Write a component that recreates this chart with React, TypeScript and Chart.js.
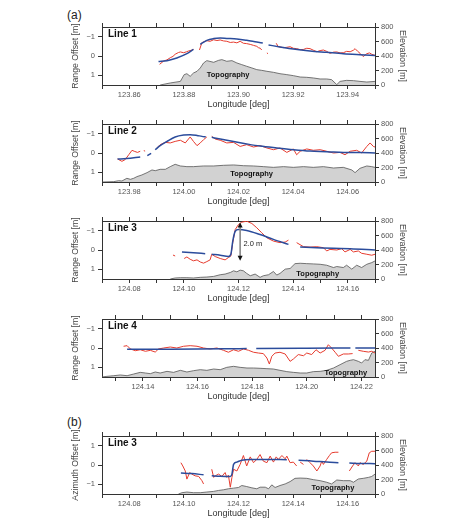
import React, { useEffect, useRef } from "react";
import { Chart, registerables } from "chart.js";
Chart.register(...registerables);

type Pt = [number, number | null];

const FONT = "'Liberation Sans', Arial, Helvetica, sans-serif";
const LONGITUDE_TITLE = "Longitude [deg]";
const ELEVATION_TITLE = "Elevation [m]";
const RANGE_TITLE = "Range Offset [m]";
const AZIMUTH_TITLE = "Azimuth Offset [m]";
const TOPO_TEXT = "Topography";

const offsetTicks = [-1, 0, 1];
const elevationTicks = [0, 200, 400, 600, 800];

// ---------- Line 1 ----------
const line1Ticks = [123.86, 123.88, 123.9, 123.92, 123.94];
const line1Red: Pt[] = [
  [123.8711, 0.43], [123.8726, 0.26], [123.8738, 0.2], [123.875, 0.09], [123.876, 0.02], [123.8768, -0.09],
  [123.878, -0.18], [123.8787, -0.21], [123.8799, -0.17], [123.881, -0.22], [123.8817, -0.26], [123.8828, -0.3],
  [123.8835, -0.34], [123.8846, null], [123.8857, -0.31], [123.8866, -0.69], [123.8875, -0.74], [123.8884, -0.79],
  [123.8896, -0.76], [123.8909, -0.84], [123.8921, -0.8], [123.8933, -0.83], [123.8945, -0.78], [123.8957, -0.76],
  [123.897, -0.7], [123.8982, -0.72], [123.8994, -0.68], [123.9006, -0.76], [123.9018, -0.66], [123.903, -0.64],
  [123.9043, -0.6], [123.9055, -0.55], [123.9067, -0.5], [123.9073, -0.43], [123.908, -0.4], [123.9085, -0.31],
  [123.9095, null], [123.9104, -0.16], [123.9108, -0.12], [123.912, null], [123.9138, -0.66], [123.9146, -0.48],
  [123.9155, -0.46], [123.9165, -0.43], [123.9177, -0.45], [123.9189, -0.48], [123.9201, -0.4], [123.9213, -0.38],
  [123.9226, -0.33], [123.9238, -0.34], [123.925, -0.4], [123.9262, -0.38], [123.9274, -0.3], [123.9287, -0.22],
  [123.9299, -0.28], [123.9311, -0.31], [123.9323, -0.24], [123.9335, -0.14], [123.9348, -0.2], [123.936, -0.21],
  [123.9372, -0.16], [123.9384, -0.17], [123.9396, -0.24], [123.9409, -0.22], [123.9421, -0.3], [123.9427, -0.38],
  [123.9436, -0.25], [123.9445, -0.14], [123.9457, 0.03], [123.947, -0.12], [123.948, -0.16], [123.9488, -0.09],
  [123.95, -0.03],
];
const line1Model: Pt[] = [
  [123.8707, 0.29], [123.8738, 0.24], [123.8774, 0.1], [123.8811, -0.12], [123.8835, -0.34], [123.8846, null],
  [123.886, -0.6], [123.8884, -0.81], [123.8909, -0.9], [123.8933, -0.93], [123.8957, -0.91], [123.8994, -0.88],
  [123.903, -0.81], [123.9067, -0.72], [123.9089, -0.67], [123.9098, null], [123.911, -0.57], [123.9152, -0.47],
  [123.9201, -0.36], [123.9262, -0.26], [123.9323, -0.19], [123.9384, -0.12], [123.9445, -0.07], [123.95, -0.03],
];
const line1Topo: Pt[] = [
  [123.8713, 0], [123.875, 28], [123.8787, 50], [123.8801, 143], [123.8811, 156], [123.8823, 120], [123.8835, 165],
  [123.8848, 189], [123.886, 235], [123.8872, 304], [123.8884, 336], [123.8909, 313], [123.8927, 340], [123.8939, 350],
  [123.8957, 327], [123.8976, 336], [123.8994, 304], [123.9012, 281], [123.903, 258], [123.9049, 235], [123.9067, 212],
  [123.9085, 202], [123.9104, 189], [123.9128, 175], [123.9152, 156], [123.9177, 143], [123.9201, 129], [123.9226, 110],
  [123.925, 106], [123.9274, 97], [123.9299, 83], [123.9323, 83], [123.9341, 74], [123.936, 5], [123.9372, 50],
  [123.9396, 64], [123.9421, 60], [123.9445, 50], [123.947, 41], [123.95, 50],
];

// ---------- Line 2 ----------
const line2Ticks = [123.98, 124.0, 124.02, 124.04, 124.06];
const line2Red: Pt[] = [
  [123.9757, 0.31], [123.9773, 0.43], [123.9785, 0.34], [123.9798, 0.09], [123.981, -0.14], [123.9818, -0.09],
  [123.983, -0.03], [123.984, -0.09], [123.9847, null], [123.9853, -0.12], [123.9858, -0.1], [123.9863, null],
  [123.9901, -0.26], [123.9913, -0.43], [123.9932, -0.55], [123.995, -0.52], [123.9968, -0.6], [123.9987, -0.66],
  [124.0005, -0.52], [124.0023, -0.83], [124.0035, -0.6], [124.0048, -0.38], [124.006, -0.52], [124.0072, -0.69],
  [124.0084, -0.83], [124.0092, null], [124.0102, -0.86], [124.0115, -0.72], [124.0133, -0.66], [124.0157, -0.52],
  [124.0182, -0.55], [124.0206, -0.34], [124.023, -0.43], [124.0255, -0.31], [124.0279, -0.38], [124.0304, -0.26],
  [124.0328, -0.17], [124.0352, -0.26], [124.0377, -0.03], [124.0401, -0.21], [124.0413, 0.09], [124.0426, -0.09],
  [124.045, -0.21], [124.0474, -0.14], [124.0499, -0.17], [124.0523, -0.09], [124.0548, 0], [124.0572, -0.03],
  [124.059, 0.09], [124.0609, -0.09], [124.0633, -0.14], [124.0651, 0], [124.067, -0.34], [124.0682, -0.52],
  [124.0694, -0.34], [124.07, -0.31],
];
const line2Model: Pt[] = [
  [123.9757, 0.31], [123.979, 0.29], [123.984, 0.21], [123.9847, null], [123.9866, 0.14], [123.988, 0.02],
  [123.9886, null], [123.9895, -0.17], [123.9913, -0.38], [123.9938, -0.6], [123.9968, -0.83], [123.9999, -0.93],
  [124.0023, -0.95], [124.0048, -0.91], [124.0066, -0.86], [124.008, -0.84], [124.0092, null], [124.0102, -0.81],
  [124.0133, -0.72], [124.0182, -0.59], [124.023, -0.47], [124.0279, -0.36], [124.034, -0.26], [124.0401, -0.17],
  [124.0462, -0.1], [124.0523, -0.07], [124.0584, -0.03], [124.0645, -0.02], [124.07, 0],
];
const line2Topo: Pt[] = [
  [123.97, 0], [123.9743, 5], [123.9761, 18], [123.9773, 14], [123.9791, 51], [123.9804, 37], [123.9816, 51],
  [123.9828, 74], [123.9846, 97], [123.9865, 129], [123.9883, 166], [123.9895, 156], [123.9913, 175], [123.9932, 175],
  [123.995, 212], [123.9968, 244], [123.9987, 221], [124.0011, 212], [124.0035, 212], [124.0072, 221], [124.0109, 221],
  [124.0145, 230], [124.0182, 235], [124.0218, 225], [124.0255, 221], [124.0291, 212], [124.0328, 202], [124.0365, 212],
  [124.0401, 202], [124.0438, 212], [124.0474, 202], [124.0511, 212], [124.0548, 193], [124.0584, 202], [124.0615, 166],
  [124.0627, 129], [124.0645, 189], [124.067, 221], [124.0688, 212], [124.07, 202],
];

// ---------- Line 3 (range) ----------
const line3Ticks = [124.08, 124.1, 124.12, 124.14, 124.16];
const line3Red: Pt[] = [
  [124.096, 0.26], [124.0968, 0.31], [124.098, null], [124.1001, 0.44], [124.1011, 0.36], [124.1023, 0.48],
  [124.1035, 0.56], [124.1048, 0.51], [124.106, 0.62], [124.1072, 0.68], [124.1084, 0.6], [124.1096, 0.51],
  [124.1102, 0.22], [124.1115, 0.34], [124.1133, 0.44], [124.1151, 0.51], [124.1163, 0.39], [124.1172, 0.31],
  [124.1179, -0.38], [124.1188, -1.06], [124.12, -1.32], [124.1212, -1.44], [124.123, -1.49], [124.1249, -1.37],
  [124.1267, -1.15], [124.1285, -0.89], [124.1304, -0.63], [124.1328, -0.46], [124.1352, -0.38], [124.1371, -0.41],
  [124.1383, -0.51], [124.1395, null], [124.1413, -0.38], [124.1438, -0.17], [124.1462, -0.15], [124.1487, -0.17],
  [124.1511, -0.12], [124.1523, 0.05], [124.1535, -0.03], [124.156, 0], [124.1578, -0.07], [124.159, 0.1],
  [124.1609, -0.03], [124.1621, 0.1], [124.1639, 0.05], [124.1651, 0.17], [124.167, 0.22], [124.1688, 0.27],
  [124.17, 0.22],
];
const line3Model: Pt[] = [
  [124.0993, 0.1], [124.1035, 0.14], [124.1078, 0.19], [124.1088, null], [124.1102, 0.22], [124.1133, 0.27],
  [124.1163, 0.34], [124.1172, 0.22], [124.1179, -0.46], [124.1188, -0.97], [124.12, -1.06], [124.123, -1.01],
  [124.1279, -0.8], [124.1328, -0.55], [124.1383, -0.29], [124.1395, null], [124.1426, -0.15], [124.1487, -0.12],
  [124.1548, -0.09], [124.1609, -0.07], [124.17, 0],
];
const line3Topo: Pt[] = [
  [124.095, 0], [124.0968, 14], [124.0987, 18], [124.1011, 18], [124.1035, 14], [124.106, 23], [124.1084, 27],
  [124.1109, 36], [124.1133, 59], [124.1151, 68], [124.117, 90], [124.1182, 113], [124.1194, 99], [124.1206, 122],
  [124.1218, 113], [124.123, 77], [124.1243, 45], [124.1261, 68], [124.1279, 23], [124.1291, 45], [124.131, 59],
  [124.1328, 104], [124.134, 54], [124.1352, 77], [124.1371, 136], [124.1389, 145], [124.1407, 212], [124.1426, 217],
  [124.145, 212], [124.1474, 208], [124.1499, 203], [124.1523, 190], [124.1548, 158], [124.156, 172], [124.1584, 158],
  [124.1596, 190], [124.1615, 136], [124.1633, 190], [124.1651, 158], [124.167, 203], [124.1688, 226], [124.17, 249],
];
// step annotation: longitude, top offset, bottom offset, label
const line3Step = { lon: 124.1206, from: -1.42, to: 0.56, label: "2.0 m", labelLon: 124.1218, labelOffset: -0.3 };

// ---------- Line 4 ----------
const line4Ticks = [124.14, 124.16, 124.18, 124.2, 124.22];
const line4Red: Pt[] = [
  [124.1329, -0.09], [124.1342, -0.12], [124.1354, 0.05], [124.1372, 0.14], [124.139, 0.09], [124.1409, 0.17],
  [124.1427, 0.12], [124.1445, 0.21], [124.1457, 0.05], [124.1476, 0], [124.15, -0.05], [124.1524, 0],
  [124.1549, -0.09], [124.1573, -0.12], [124.1598, -0.09], [124.1622, 0], [124.1646, 0.05], [124.1671, 0],
  [124.1695, 0.12], [124.1713, 0.22], [124.1732, 0.09], [124.175, 0.17], [124.1768, 0.05], [124.1787, 0.12],
  [124.1805, 0.22], [124.1823, 0.26], [124.1841, 0.29], [124.1854, 0.52], [124.1863, 0.83], [124.1872, 0.43],
  [124.1884, 0.26], [124.1902, 0.22], [124.1921, 0.31], [124.1939, 0.69], [124.1951, 0.57], [124.1969, 0.34],
  [124.1988, 0.4], [124.2, 0.26], [124.2018, 0.34], [124.2034, 0.09], [124.2049, 0.26], [124.2067, 0.12],
  [124.2079, -0.17], [124.2091, 0], [124.2104, 0.22], [124.2116, 0.43], [124.2134, 0.31], [124.2152, 0.31],
  [124.2168, 0.29], [124.2178, null], [124.2189, 0.12], [124.2207, 0.17], [124.2226, 0.21], [124.2238, 0.17],
  [124.225, 0.26],
];
const line4Model: Pt[] = [
  [124.1342, 0.07], [124.15, 0.06], [124.17, 0.04], [124.178, 0.03], [124.1787, null], [124.1815, 0.02],
  [124.2, 0.01], [124.216, 0], [124.2165, null], [124.2178, 0], [124.225, 0],
];
const line4Topo: Pt[] = [
  [124.125, 0], [124.1268, 9], [124.1293, 18], [124.1317, 28], [124.1342, 18], [124.1366, 41], [124.139, 64],
  [124.1409, 55], [124.1427, 46], [124.1445, 69], [124.1463, 55], [124.1488, 78], [124.1512, 64], [124.1537, 92],
  [124.1561, 69], [124.1585, 87], [124.161, 101], [124.1634, 92], [124.1659, 110], [124.1683, 101], [124.1707, 133],
  [124.1732, 147], [124.1756, 133], [124.1781, 124], [124.1805, 124], [124.1829, 120], [124.1854, 115], [124.1878, 110],
  [124.1902, 92], [124.1927, 74], [124.1951, 64], [124.1976, 55], [124.2, 55], [124.2024, 74], [124.2049, 78],
  [124.2073, 92], [124.2098, 124], [124.2122, 170], [124.2146, 216], [124.2159, 230], [124.2171, 239], [124.2189, 216],
  [124.2201, 193], [124.2213, 239], [124.2226, 230], [124.2238, 331], [124.225, 354],
];

// ---------- Line 3 (azimuth) ----------
const azimuthRed: Pt[] = [
  [124.0989, 0.12], [124.0996, -0.05], [124.1005, -0.31], [124.1011, -0.73], [124.1021, -0.39], [124.1029, -0.47],
  [124.1041, -0.56], [124.1054, -0.59], [124.1066, -0.81], [124.1072, -0.98], [124.1085, null], [124.1102, -0.22],
  [124.1109, -0.64], [124.1115, -0.56], [124.1127, -0.47], [124.1139, -0.59], [124.1151, -0.39], [124.1157, -0.64],
  [124.1163, -0.53], [124.117, -1.15], [124.1176, -0.64], [124.1182, -0.22], [124.1194, -0.31], [124.1206, 0.03],
  [124.1218, 0.49], [124.123, -0.05], [124.1243, 0.42], [124.1255, 0.12], [124.1267, 0.29], [124.1279, 0.54],
  [124.1291, 0.2], [124.1304, 0.12], [124.1316, 0.46], [124.1328, 0.15], [124.1338, 0.42], [124.1346, 0.29],
  [124.1359, 0.49], [124.1371, 0.32], [124.1377, 0.46], [124.1389, 0.12], [124.1401, 0.15], [124.1413, -0.05],
  [124.1418, null], [124.1426, 0.15], [124.1438, 0.03], [124.1443, null], [124.145, 0.29], [124.1462, 0.12],
  [124.1474, -0.05], [124.1487, -0.31], [124.1499, -0.05], [124.1505, 0.2], [124.1511, 0.03], [124.1523, 0.29],
  [124.1533, 0.49], [124.1541, 0.63], [124.1554, 0.66], [124.1566, 0.66], [124.158, null], [124.1606, -0.31],
  [124.1618, -0.05], [124.1627, 0.12], [124.1639, -0.05], [124.1645, 0.12], [124.1657, 0.03], [124.167, 0.2],
  [124.1679, 0.63], [124.1688, 0.71], [124.17, 0.71],
];
const azimuthModel: Pt[] = [
  [124.0989, -0.42], [124.1029, -0.44], [124.1072, -0.51], [124.1085, null], [124.1102, -0.56], [124.1133, -0.58],
  [124.117, -0.59], [124.1176, -0.47], [124.1182, 0.03], [124.1194, 0.15], [124.1212, 0.25], [124.1243, 0.29],
  [124.1304, 0.29], [124.1377, 0.27], [124.1395, null], [124.142, 0.24], [124.1474, 0.2], [124.1523, 0.15],
  [124.1566, 0.12], [124.158, null], [124.1606, 0.1], [124.1645, 0.08], [124.17, 0.07],
];
const azimuthTopo: Pt[] = [
  [124.098, 0], [124.0993, 18], [124.1011, 27], [124.1035, 18], [124.106, 18], [124.1084, 27], [124.1109, 36],
  [124.1127, 49], [124.1145, 58], [124.1163, 72], [124.1182, 81], [124.12, 90], [124.1212, 117], [124.123, 103],
  [124.1249, 85], [124.1267, 72], [124.1279, 94], [124.1298, 94], [124.131, 72], [124.1322, 126], [124.1334, 90],
  [124.1352, 117], [124.1371, 139], [124.1389, 171], [124.1407, 216], [124.1426, 220], [124.145, 216], [124.1474, 198],
  [124.1499, 184], [124.1523, 162], [124.1541, 139], [124.156, 193], [124.1584, 184], [124.1609, 184], [124.1621, 162],
  [124.1639, 207], [124.1657, 216], [124.1676, 229], [124.1688, 242], [124.17, 274],
];

interface Panel {
  name: string;
  plotTop: number;
  xMin: number;
  xMax: number;
  xTicks: number[];
  yTitle: string;
  reverse: boolean;
  red: Pt[];
  model: Pt[];
  topo: Pt[];
  topoLabel: [number, number];
  step?: typeof line3Step;
}

const panels: Panel[] = [
  { name: "Line 1", plotTop: 27, xMin: 123.85, xMax: 123.95, xTicks: line1Ticks, yTitle: RANGE_TITLE, reverse: true,
    red: line1Red, model: line1Model, topo: line1Topo, topoLabel: [123.8962, 135] },
  { name: "Line 2", plotTop: 124, xMin: 123.97, xMax: 124.07, xTicks: line2Ticks, yTitle: RANGE_TITLE, reverse: true,
    red: line2Red, model: line2Model, topo: line2Topo, topoLabel: [124.0248, 112] },
  { name: "Line 3", plotTop: 221, xMin: 124.07, xMax: 124.17, xTicks: line3Ticks, yTitle: RANGE_TITLE, reverse: true,
    red: line3Red, model: line3Model, topo: line3Topo, topoLabel: [124.149, 72], step: line3Step },
  { name: "Line 4", plotTop: 319, xMin: 124.125, xMax: 124.225, xTicks: line4Ticks, yTitle: RANGE_TITLE, reverse: true,
    red: line4Red, model: line4Model, topo: line4Topo, topoLabel: [124.2143, 60] },
  { name: "Line 3", plotTop: 436, xMin: 124.07, xMax: 124.17, xTicks: line3Ticks, yTitle: AZIMUTH_TITLE, reverse: false,
    red: azimuthRed, model: azimuthModel, topo: azimuthTopo, topoLabel: [124.1546, 80] },
];

const PLOT_H = 58;
const TOP_PAD = 10;
const BOTTOM_H = 25;
const CANVAS_H = TOP_PAD + PLOT_H + BOTTOM_H;
const AXIS = "#333";
const TICK_TXT = "#555";

const toXY = (pts: Pt[]) => pts.map(([x, y]) => ({ x, y }));

function minorSteps(min: number, max: number) {
  const out: { value: number }[] = [];
  for (let k = Math.ceil(min * 100 - 1e-6); k <= Math.floor(max * 100 + 1e-6); k++) out.push({ value: k / 100 });
  return out;
}

function PanelChart({ p }: { p: Panel }) {
  const ref = useRef<HTMLCanvasElement>(null);
  useEffect(() => {
    const grid = { drawOnChartArea: false, drawTicks: true, tickLength: 4, color: AXIS, lineWidth: 1 };
    const border = { display: true, color: AXIS, width: 1 };
    const annot = {
      id: "annot",
      afterDatasetsDraw(chart: any) {
        const { ctx, chartArea } = chart;
        const xs = chart.scales.x, ys = chart.scales.y, ye = chart.scales.y2;
        ctx.save();
        ctx.fillStyle = "#111";
        ctx.font = `bold 10px ${FONT}`;
        ctx.textAlign = "left";
        ctx.textBaseline = "middle";
        ctx.fillText(p.name, chartArea.left + 6, chartArea.top + 7);
        ctx.font = `bold 7.5px ${FONT}`;
        ctx.textAlign = "center";
        ctx.fillText(TOPO_TEXT, xs.getPixelForValue(p.topoLabel[0]), ye.getPixelForValue(p.topoLabel[1]));
        if (p.step) {
          const s = p.step;
          const x = xs.getPixelForValue(s.lon);
          const y1 = ys.getPixelForValue(s.from);
          const y2 = ys.getPixelForValue(s.to);
          ctx.strokeStyle = "#888";
          ctx.lineWidth = 1.6;
          ctx.beginPath();
          ctx.moveTo(x, y1 + 4);
          ctx.lineTo(x, y2 - 4);
          ctx.stroke();
          ctx.fillStyle = "#111";
          ctx.beginPath();
          ctx.moveTo(x, y1); ctx.lineTo(x - 2.5, y1 + 5); ctx.lineTo(x + 2.5, y1 + 5); ctx.closePath(); ctx.fill();
          ctx.beginPath();
          ctx.moveTo(x, y2); ctx.lineTo(x - 2.5, y2 - 5); ctx.lineTo(x + 2.5, y2 - 5); ctx.closePath(); ctx.fill();
          ctx.font = `7.5px ${FONT}`;
          ctx.textAlign = "left";
          ctx.fillStyle = "#222";
          ctx.fillText(s.label, xs.getPixelForValue(s.labelLon), ys.getPixelForValue(s.labelOffset));
        }
        ctx.restore();
      },
    };
    const xBuild = (scale: any) => { scale.ticks = minorSteps(p.xMin, p.xMax); };
    const chart = new Chart(ref.current!, {
      type: "line",
      data: {
        datasets: [
          { data: toXY(p.model), borderColor: "#2b4c9c", borderWidth: 1.5, pointRadius: 0, yAxisID: "y",
            cubicInterpolationMode: "monotone", spanGaps: false, order: 1, fill: false },
          { data: toXY(p.red), borderColor: "#e63b2e", borderWidth: 1, pointRadius: 0, yAxisID: "y",
            spanGaps: false, order: 2, fill: false },
          { data: toXY(p.topo), borderColor: "#555", backgroundColor: "#d2d2d2", borderWidth: 0.8, pointRadius: 0,
            yAxisID: "y2", fill: "origin", order: 3 },
        ],
      } as any,
      options: {
        animation: false,
        responsive: false,
        devicePixelRatio: 1,
        events: [],
        layout: { padding: { left: 70, right: 68, top: TOP_PAD - 4, bottom: 0 } },
        plugins: { legend: { display: false }, tooltip: { enabled: false } },
        scales: {
          x: {
            type: "linear", position: "bottom", min: p.xMin, max: p.xMax,
            afterBuildTicks: xBuild,
            afterFit: (s: any) => { s.height = BOTTOM_H; },
            ticks: {
              autoSkip: false, maxRotation: 0, padding: 1, color: TICK_TXT, font: { size: 7.5, family: FONT },
              callback: (v: any) => (p.xTicks.some((m) => Math.abs(m - v) < 1e-6) ? Number(v).toFixed(2) : ""),
            },
            grid, border,
            title: { display: true, text: LONGITUDE_TITLE, color: "#333", font: { size: 9, family: FONT }, padding: 0 },
          },
          xTop: {
            type: "linear", position: "top", min: p.xMin, max: p.xMax,
            afterBuildTicks: xBuild,
            afterFit: (s: any) => { s.height = 4; },
            ticks: { display: false },
            grid, border,
          },
          y: {
            type: "linear", position: "left", min: -1.5, max: 1.5, reverse: p.reverse,
            afterBuildTicks: (s: any) => { s.ticks = offsetTicks.map((value) => ({ value })); },
            afterFit: (s: any) => { s.width = 32; },
            ticks: {
              padding: 3, color: TICK_TXT, font: { size: 7.5, family: FONT },
              callback: (v: any) => (v < 0 ? "\u2212" + Math.abs(v) : String(v)),
            },
            grid, border,
            title: { display: true, text: p.yTitle, color: "#444", font: { size: 8.7, family: FONT }, padding: 0 },
          },
          y2: {
            type: "linear", position: "right", min: 0, max: 800,
            afterBuildTicks: (s: any) => { s.ticks = elevationTicks.map((value) => ({ value })); },
            afterFit: (s: any) => { s.width = 33; },
            ticks: { padding: 2, color: TICK_TXT, font: { size: 7.5, family: FONT } },
            grid, border,
            title: { display: true, text: ELEVATION_TITLE, color: "#444", font: { size: 9, family: FONT }, padding: 0 },
          },
        },
      } as any,
      plugins: [annot],
    });
    return () => chart.destroy();
  }, []);
  return (
    <canvas
      ref={ref}
      width={476}
      height={CANVAS_H}
      style={{ position: "absolute", left: 0, top: p.plotTop - TOP_PAD, width: 476, height: CANVAS_H }}
    />
  );
}

export default function App() {
  const label = (t: string, top: number) => (
    <div style={{ position: "absolute", left: 67, top, font: `12px ${FONT}`, color: "#222", lineHeight: "14px" }}>{t}</div>
  );
  return (
    <div style={{ position: "absolute", left: 0, top: 0, width: 476, height: 519, background: "#fff", overflow: "hidden" }}>
      {label("(a)", 8)}
      {label("(b)", 415)}
      {panels.map((p, i) => (
        <PanelChart key={i} p={p} />
      ))}
    </div>
  );
}
